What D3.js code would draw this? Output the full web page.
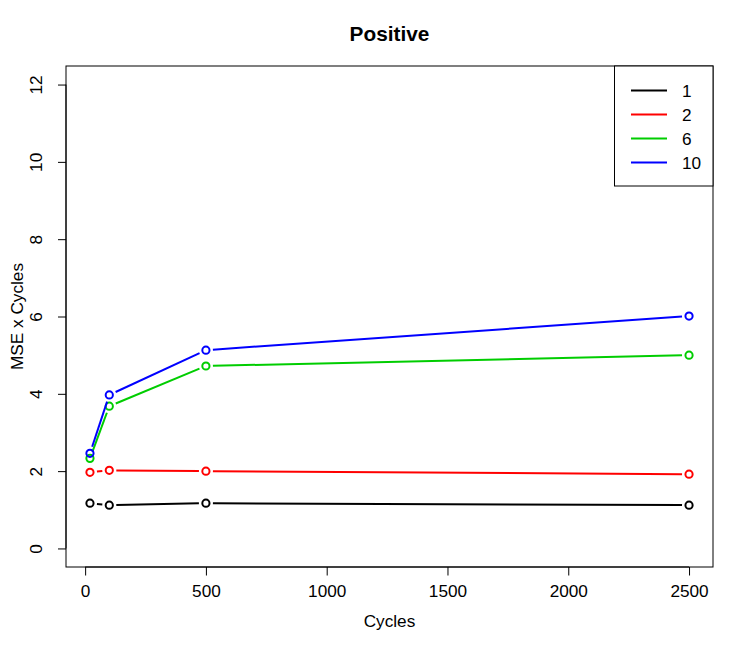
<!DOCTYPE html>
<html><head><meta charset="utf-8">
<script src="https://cdn.jsdelivr.net/npm/d3@7"></script>
<style>body{margin:0;background:#fff;} text{font-family:"Liberation Sans",Arial,sans-serif;}</style>
</head><body>
<svg id="c" width="747" height="650"></svg>
<script>
const cycles = [20, 100, 500, 2500];
const seriesNames = ["1", "2", "6", "10"];
const seriesColors = ["#000000", "#ff0000", "#00cd00", "#0000ff"];
const s1 = [1.17, 1.12, 1.17, 1.12];
const s2 = [1.97, 2.02, 2.00, 1.92];
const s6 = [2.33, 3.68, 4.72, 5.00];
const s10 = [2.46, 3.97, 5.13, 6.01];
const seriesValues = [s1, s2, s6, s10];
const xTicks = [0, 500, 1000, 1500, 2000, 2500];
const yTicks = [0, 2, 4, 6, 8, 10, 12];

const FS = 17.2;
const svg = d3.select("#c");
const L = 66, R = 713, T = 66, B = 567;
const xr = [20, 2500], yr = [0, 12];
const xpad = (xr[1]-xr[0])*0.04, ypad = (yr[1]-yr[0])*0.04;
const x = d3.scaleLinear().domain([xr[0]-xpad, xr[1]+xpad]).range([L, R]);
const y = d3.scaleLinear().domain([yr[0]-ypad, yr[1]+ypad]).range([B, T]);

// axes
const xa = svg.append("g").attr("transform", `translate(0,${B})`)
  .call(d3.axisBottom(x).tickValues(xTicks).tickSize(8.5).tickFormat(d3.format("d")));
const ya = svg.append("g").attr("transform", `translate(${L},0)`)
  .call(d3.axisLeft(y).tickValues(yTicks).tickSize(8).tickFormat(d3.format("d")));
[xa, ya].forEach(a => {
  a.select(".domain").remove();
  a.selectAll("line").attr("stroke", "#000");
  a.selectAll("text").attr("font-size", FS).attr("fill", "#000")
    .attr("font-family", "Liberation Sans, Arial, sans-serif");
});
xa.selectAll(".tick text").attr("y", 30).attr("dy", null);
xa.append("line").attr("x1", x(0)).attr("x2", x(2500)).attr("stroke", "#000");
ya.append("line").attr("y1", y(0)).attr("y2", y(12)).attr("stroke", "#000");
ya.selectAll(".tick text").each(function(){
  d3.select(this).attr("x", null).attr("dy", null).attr("text-anchor", "middle")
   .attr("transform", "translate(-24,0) rotate(-90)");
});

// box
svg.append("rect").attr("x", L).attr("y", T).attr("width", R-L).attr("height", B-T)
  .attr("fill", "none").attr("stroke", "#000");

// series (type = "b")
const gap = 7;
seriesValues.forEach((vals, i) => {
  const g = svg.append("g");
  const pts = cycles.map((c, j) => [x(c), y(vals[j])]);
  for (let j = 0; j < pts.length-1; j++) {
    const [x1, y1] = pts[j], [x2, y2] = pts[j+1];
    const dx = x2-x1, dy = y2-y1, len = Math.hypot(dx, dy);
    if (len <= 2*gap) continue;
    const ux = dx/len, uy = dy/len;
    g.append("line").attr("x1", x1+ux*gap).attr("y1", y1+uy*gap)
      .attr("x2", x2-ux*gap).attr("y2", y2-uy*gap)
      .attr("stroke", seriesColors[i]).attr("stroke-width", 2);
  }
  g.selectAll("circle").data(pts).enter().append("circle")
    .attr("cx", d => d[0]).attr("cy", d => d[1]).attr("r", 3.6)
    .attr("fill", "none").attr("stroke", seriesColors[i]).attr("stroke-width", 2);
});

// legend
svg.append("rect").attr("x", 614.5).attr("y", T).attr("width", R-614.5).attr("height", 186-T)
  .attr("fill", "#fff").attr("stroke", "#000");
seriesNames.forEach((n, i) => {
  const yy = 90.5 + i*24;
  svg.append("line").attr("x1", 631).attr("x2", 667).attr("y1", yy).attr("y2", yy)
    .attr("stroke", seriesColors[i]).attr("stroke-width", 2);
  svg.append("text").attr("x", 682).attr("y", yy+6).attr("font-size", FS).text(n);
});

// titles
svg.append("text").attr("x", (L+R)/2).attr("y", 41).attr("text-anchor", "middle")
  .attr("font-size", 20.8).attr("font-weight", "bold").text("Positive");
svg.append("text").attr("x", (L+R)/2).attr("y", 627).attr("text-anchor", "middle")
  .attr("font-size", FS).text("Cycles");
svg.append("text").attr("transform", `translate(23,${(T+B)/2}) rotate(-90)`)
  .attr("text-anchor", "middle").attr("font-size", FS).text("MSE x Cycles");
</script>
</body></html>
